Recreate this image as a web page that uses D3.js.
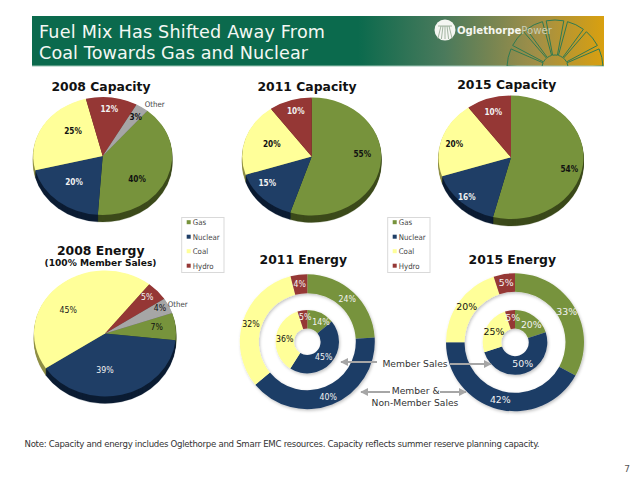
<!DOCTYPE html>
<html><head><meta charset="utf-8">
<style>html,body{margin:0;padding:0;background:#fff;overflow:hidden}svg{display:block}text{font-family:"DejaVu Sans",sans-serif}</style>
<script src="https://cdn.jsdelivr.net/npm/d3@7"></script>
</head><body>
<script>
// ---------- data ----------
const categoriesFour = ["Gas","Nuclear","Coal","Hydro"];
const categoriesFive = ["Gas","Nuclear","Coal","Hydro","Other"];
const capacity2008 = [40,20,25,12,3];
const capacity2011 = [55,15,20,10];
const capacity2015 = [54,16,20,10];
const energy2008   = [7,39,45,5,4];
const energy2011Outer = [24,40,32,4];
const energy2011Inner = [14,45,36,5];
const energy2015Outer = [33,42,20,5];
const energy2015Inner = [20,50,25,5];
const titleLines = ["Fuel Mix Has Shifted Away From","Coal Towards Gas and Nuclear"];
const noteText = "Note: Capacity and energy includes Oglethorpe and Smarr EMC resources. Capacity reflects summer reserve planning capacity.";

// ---------- styles ----------
const topColor = d3.scaleOrdinal(categoriesFive,["#77933c","#1f3e66","#ffff99","#953735","#a6a6a6"]);
const sideColor = d3.scaleOrdinal(categoriesFive,["#3c4a1b","#0c1c33","#8f8f45","#4d1b1b","#5c5c5c"]);
const condensed = '"DejaVu Sans Condensed","DejaVu Sans",sans-serif';
const W=637,H=478;
const svg=d3.select("body").append("svg").attr("width",W).attr("height",H);
const defs=svg.append("defs");

// ---------- banner ----------
const grad=defs.append("linearGradient").attr("id","bannerGrad");
grad.append("stop").attr("offset","0.57").attr("stop-color","#0b6a4d");
grad.append("stop").attr("offset","0.72").attr("stop-color","#4a7a5c");
grad.append("stop").attr("offset","0.88").attr("stop-color","#a08f48");
grad.append("stop").attr("offset","1").attr("stop-color","#d9a00f");
defs.append("clipPath").attr("id","bannerClip").append("rect").attr("x",32).attr("y",16).attr("width",572).attr("height",50);
svg.append("rect").attr("x",32).attr("y",16).attr("width",572).attr("height",50).attr("fill","url(#bannerGrad)");
svg.append("rect").attr("x",32).attr("y",65.5).attr("width",572).attr("height",1).attr("fill","#9cc4b4");
const titleWidths=[286,269];
titleLines.forEach((t,i)=>svg.append("text").attr("x",39).attr("y",37.5+i*21).attr("fill","#f4f8f4")
  .attr("font-size",17.6).attr("textLength",titleWidths[i]).attr("lengthAdjust","spacing").text(t));

// fan emblem
const fan=svg.append("g").attr("clip-path","url(#bannerClip)");
const fanArc=d3.arc().innerRadius(13).outerRadius(48);
d3.range(7).forEach(i=>{
  const step=Math.PI/7, a=-Math.PI/2+i*step;
  fan.append("path").attr("transform","translate(555,68)")
    .attr("d",fanArc({startAngle:a+0.04,endAngle:a+step-0.04}))
    .attr("fill","none").attr("stroke","#2f7a52").attr("stroke-width",1);
});
// logo mark
const logo=svg.append("g").attr("transform","translate(445,30)");
logo.append("circle").attr("r",10.5).attr("fill","#f4f6f2");
d3.range(-2,3).forEach(i=>logo.append("line").attr("x1",i*3.6).attr("x2",i*2).attr("y1",9).attr("y2",-4)
  .attr("stroke","#7f9a80").attr("stroke-width",.7));
logo.append("line").attr("x1",-7).attr("x2",7).attr("y1",-4).attr("y2",-4).attr("stroke","#7f9a80").attr("stroke-width",.7);
const logoText=svg.append("text").attr("x",457).attr("y",33.5).attr("font-size",10)
  .attr("font-family",'"Liberation Sans",sans-serif').attr("textLength",95).attr("lengthAdjust","spacingAndGlyphs");
logoText.append("tspan").attr("font-weight",700).attr("fill","#f6f6f0").text("Oglethorpe");
logoText.append("tspan").attr("fill","#c9cdb4").text("Power");

// ---------- filters ----------
const f=defs.append("filter").attr("id","ringShadow").attr("x","-15%").attr("y","-15%").attr("width","130%").attr("height","130%");
f.append("feDropShadow").attr("dx",1).attr("dy",1.5).attr("stdDeviation",1.6).attr("flood-color","#000").attr("flood-opacity",.24);

// ---------- helpers ----------
const pieGen=startDeg=>d3.pie().sort(null).value(d=>d.value).startAngle(startDeg*Math.PI/180).endAngle((startDeg+360)*Math.PI/180);
const zip=(cats,vals)=>vals.map((v,i)=>({cat:cats[i],value:v}));
const pct=v=>v+"%";

function pie3d(o){
  const g=svg.append("g").attr("transform",`translate(${o.cx},${o.cy})`);
  const arcs=pieGen(o.start)(zip(o.cats,o.values));
  const arc=d3.arc().innerRadius(0).outerRadius(o.rx);
  const k=o.ry/o.rx;
  d3.range(o.depth,0,-1).forEach(dy=>{
    g.append("g").attr("transform",`translate(0,${dy}) scale(1,${k})`).selectAll("path").data(arcs).join("path")
      .attr("d",arc).attr("fill",d=>sideColor(d.data.cat)).attr("stroke",d=>sideColor(d.data.cat)).attr("stroke-width",.3);
  });
  g.append("g").attr("transform",`scale(1,${k})`).selectAll("path").data(arcs).join("path")
    .attr("d",arc).attr("fill",d=>topColor(d.data.cat));
  labels(o.values,o.labelAt,o.labelFill,o.labelStyle);
}
function labels(values,pos,fills,st){
  svg.append("g").selectAll("text").data(values).join("text")
    .attr("x",(d,i)=>pos[i][0]).attr("y",(d,i)=>pos[i][1]).attr("dy","0.36em")
    .attr("text-anchor","middle").attr("fill",(d,i)=>fills[i])
    .attr("font-size",st.size).attr("font-weight",st.weight).style("font-family",st.family)
    .text(pct);
}
function ring(o,values,r0,r1){
  const g=svg.append("g").attr("transform",`translate(${o.cx},${o.cy})`).attr("filter","url(#ringShadow)");
  const arc=d3.arc().innerRadius(r0).outerRadius(r1);
  g.selectAll("path").data(pieGen(0)(zip(categoriesFour,values))).join("path").attr("d",arc).attr("fill",d=>topColor(d.data.cat));
}

const boldStyle={size:8.2,weight:700,family:condensed};
const regStyle={size:8.7,weight:400,family:condensed};
const bigStyle={size:9.4,weight:400,family:'"DejaVu Sans",sans-serif'};
const INK="#111", PALE="#f2f2f2";

// ---------- pies ----------
pie3d({cx:102.7,cy:156,rx:69.5,ry:59,depth:7,start:40,cats:categoriesFive,values:capacity2008,labelStyle:boldStyle,
  labelAt:[[137,179],[74,182],[73,131],[109.3,109.5],[135.7,117]],labelFill:[INK,PALE,INK,PALE,INK]});
pie3d({cx:311.7,cy:156.5,rx:69.5,ry:59,depth:7,start:0,cats:categoriesFour,values:capacity2011,labelStyle:boldStyle,
  labelAt:[[362.3,154.3],[267.3,183.3],[271.7,143.7],[295.7,111]],labelFill:[INK,PALE,INK,PALE]});
pie3d({cx:511,cy:157.3,rx:72.5,ry:61.7,depth:7,start:0,cats:categoriesFour,values:capacity2015,labelStyle:boldStyle,
  labelAt:[[569.3,169.3],[466.7,196.7],[454.3,144.3],[493.3,112.3]],labelFill:[INK,PALE,INK,PALE]});
pie3d({cx:105,cy:333.5,rx:71,ry:63,depth:7,start:71,cats:categoriesFive,values:energy2008,labelStyle:regStyle,
  labelAt:[[156.7,327.3],[105,370],[68.3,310],[147.3,297.3],[160,308.3]],labelFill:[INK,PALE,"#222",PALE,INK]});

// ---------- rings ----------
const r11={cx:307.3,cy:341.7}, r15={cx:515,cy:342.3};
ring(r11,energy2011Outer,48.5,67.5);
ring(r11,energy2011Inner,13.3,31.7);
ring(r15,energy2015Outer,50.5,69);
ring(r15,energy2015Inner,13.7,32.3);
labels(energy2011Outer,[[347.3,299.3],[328.3,396.7],[251,324.3],[299.7,283.7]],[PALE,PALE,INK,PALE],regStyle);
labels(energy2011Inner,[[321,321.7],[323.7,357.3],[284.7,339],[305.3,317.3]],[PALE,PALE,INK,PALE],regStyle);
labels(energy2015Outer,[[566.7,311.3],[500.3,399.7],[466.7,306.3],[506.3,282.3]],[PALE,PALE,INK,PALE],bigStyle);
labels(energy2015Inner,[[531.3,324.7],[522.7,363.3],[494,332],[512.7,317.3]],[PALE,PALE,INK,PALE],bigStyle);

// ---------- titles ----------
const titles=[["2008 Capacity",101,91,12.4],["2011 Capacity",307,91,12.4],["2015 Capacity",506.7,88.5,12.4],
  ["2008 Energy",100.7,254.5,12.4],["(100% Member Sales)",100.5,266,9.1],["2011 Energy",303.3,264,12.4],["2015 Energy",512.3,264,12.4]];
svg.append("g").selectAll("text").data(titles).join("text").attr("x",d=>d[1]).attr("y",d=>d[2]).attr("font-size",d=>d[3])
  .attr("text-anchor","middle").attr("font-weight",700).attr("fill","#111").text(d=>d[0]);
svg.append("text").attr("x",154.7).attr("y",107).attr("text-anchor","middle").attr("font-size",7.8).attr("fill","#444").style("font-family",condensed).text("Other");
svg.append("text").attr("x",177.7).attr("y",307).attr("text-anchor","middle").attr("font-size",7.8).attr("fill","#444").style("font-family",condensed).text("Other");

// ---------- legends ----------
[181.7,387.7].forEach(x=>{
  const g=svg.append("g").attr("transform",`translate(${x},217.5)`);
  g.append("rect").attr("width",42.3).attr("height",55).attr("fill","#fff").attr("stroke","#d9d9d9").attr("stroke-width",1);
  const y=d3.scalePoint().domain(categoriesFour).range([4.7,48.2]);
  const row=g.selectAll("g").data(categoriesFour).join("g").attr("transform",d=>`translate(0,${y(d)})`);
  row.append("rect").attr("x",5).attr("y",-2).attr("width",4).attr("height",4).attr("fill",d=>topColor(d));
  row.append("text").attr("x",11).attr("dy","0.36em").attr("font-size",7.8).attr("fill","#444").style("font-family",condensed).text(d=>d);
});

// ---------- callouts ----------
const mk=defs.append("marker").attr("id","head").attr("viewBox","0 0 10 10").attr("refX",9).attr("refY",5)
  .attr("markerWidth",4).attr("markerHeight",4).attr("orient","auto");
mk.append("path").attr("d","M0,0L10,5L0,10Z").attr("fill","#a6a6a6");
[[377,362,341,362],[450,364,491,364],[390,392,361,392],[440,392,466,392]].forEach(a=>
  svg.append("line").attr("x1",a[0]).attr("y1",a[1]).attr("x2",a[2]).attr("y2",a[3]).attr("stroke","#a6a6a6").attr("stroke-width",2).attr("marker-end","url(#head)"));
[["Member Sales",415,366.5],["Member &",415.7,394],["Non-Member Sales",415,405.5]].forEach(t=>
  svg.append("text").attr("x",t[1]).attr("y",t[2]).attr("text-anchor","middle").attr("font-size",9.2).attr("fill","#333").text(t[0]));

// ---------- footer ----------
svg.append("text").attr("x",24.5).attr("y",447).attr("font-size",8.6).attr("fill","#333").attr("textLength",515).attr("lengthAdjust","spacing").text(noteText);
svg.append("text").attr("x",630).attr("y",472).attr("text-anchor","end").attr("font-size",9).attr("fill","#555").text("7");
</script>
</body></html>
